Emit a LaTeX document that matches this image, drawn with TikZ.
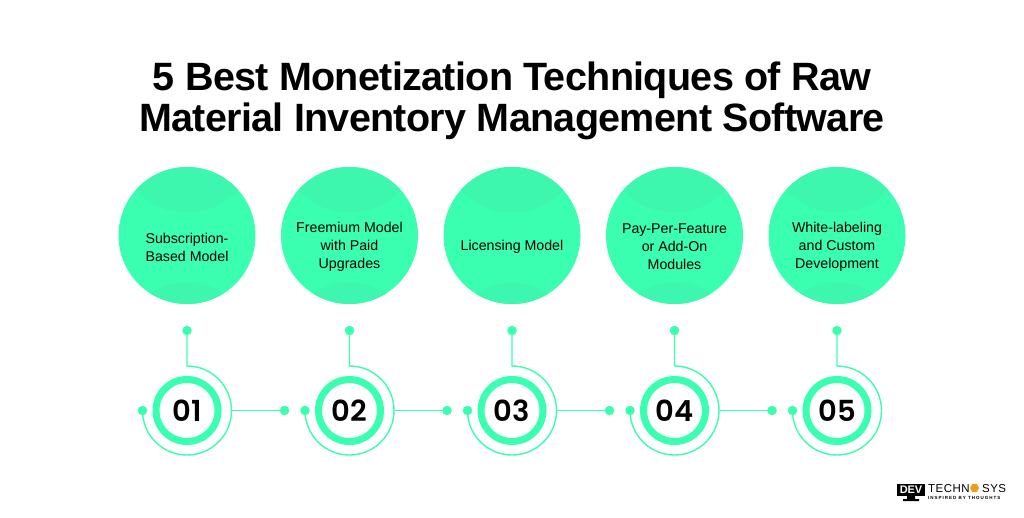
\documentclass[tikz,border=0pt]{standalone}
\usepackage{fontspec}
\setmainfont{Liberation Sans}
\newfontfamily\numfont{Poppins SemiBold}
\newfontfamily\titlefont[LetterSpace=-1.7]{Liberation Sans}
\newfontfamily\logofont[LetterSpace=4]{Liberation Sans}
\newfontfamily\tagfont[LetterSpace=22]{Liberation Sans}
\usetikzlibrary{calc}
\usetikzlibrary{shapes.geometric}
\definecolor{mint}{HTML}{3BFFB0}
\definecolor{mintdark}{HTML}{3EF7AE}
\definecolor{hexorange}{HTML}{F39A1E}
\tikzset{
    topic/.style={circle, minimum size=137pt, inner sep=0pt, fill=mint,
        path picture={
            \fill[mintdark] ($(path picture bounding box.center) + (0, -93.5)$) circle[radius=70.5];
            \fill[mintdark] ($(path picture bounding box.center) + (0, 116)$) circle[radius=69];
        }},
    caption/.style={inner sep=0pt, align=center, font=\fontsize{14.2}{18}\selectfont},
    ring/.style={circle, minimum size=62pt, inner sep=0pt, draw=mint, line width=7pt,
        font=\numfont\fontsize{29}{29}\selectfont},
    dot/.style={circle, minimum size=9.5pt, inner sep=0pt, fill=mint},
    wire/.style={draw=mint, line width=1.4pt},
    headline/.style={anchor=base, inner sep=0pt, font=\titlefont\bfseries\fontsize{39.5}{39.5}\selectfont},
}
\begin{document}
\begin{tikzpicture}[x=1pt, y=-1pt]
            \useasboundingbox (0, 0) rectangle (1024, 517);
            \fill[white] (0, 0) rectangle (1024, 517);
            \node[headline] (title top) at (512, 90) {5 Best Monetization Techniques of Raw};
            \node[headline] (title bottom) at (512, 131) {Material Inventory Management Software};
            % circles
            \node[topic] (topic 1) at (187, 235.5) {};
            \node[topic] (topic 2) at (349.5, 235.5) {};
            \node[topic] (topic 3) at (512, 235.5) {};
            \node[topic] (topic 4) at (674.5, 235.5) {};
            \node[topic] (topic 5) at (837, 235.5) {};
            \node[caption] (caption 1) at ($(topic 1) + (0, 11.5)$) {Subscription-\\Based Model};
            \node[caption] (caption 2) at ($(topic 2) + (0, 11.5)$) {Freemium Model\\with Paid\\Upgrades};
            \node[caption] (caption 3) at ($(topic 3) + (0, 11.5)$) {Licensing Model};
            \node[caption] (caption 4) at ($(topic 4) + (0, 11.5)$) {Pay-Per-Feature\\or Add-On\\Modules};
            \node[caption] (caption 5) at ($(topic 5) + (0, 11.5)$) {White-labeling\\and Custom\\Development};
            % rings
            \node[ring] (ring 1) at (187, 410.5) {01};
            \node[ring] (ring 2) at (349.5, 410.5) {02};
            \node[ring] (ring 3) at (512, 410.5) {03};
            \node[ring] (ring 4) at (674.5, 410.5) {04};
            \node[ring] (ring 5) at (837, 410.5) {05};
            % first
            \node[dot] (up 1) at ($(ring 1) + (0, -80)$) {};
            \node[dot] (left 1) at ($(ring 1) + (-44.5, 0)$) {};
            \node[dot] (right 1) at ($(ring 1) + (97.5, 0)$) {};
            \coordinate (bend 1) at ($(ring 1) + (0, -44.5)$);
            \coordinate (side 1) at ($(ring 1) + (44.5, 0)$);
            \draw[wire] (up 1.center) -- (bend 1) arc[start angle=-90, end angle=180, radius=44.5];
            \draw[wire] (side 1) -- (right 1.center);
            % second
            \node[dot] (up 2) at ($(ring 2) + (0, -80)$) {};
            \node[dot] (left 2) at ($(ring 2) + (-44.5, 0)$) {};
            \node[dot] (right 2) at ($(ring 2) + (97.5, 0)$) {};
            \coordinate (bend 2) at ($(ring 2) + (0, -44.5)$);
            \coordinate (side 2) at ($(ring 2) + (44.5, 0)$);
            \draw[wire] (up 2.center) -- (bend 2) arc[start angle=-90, end angle=180, radius=44.5];
            \draw[wire] (side 2) -- (right 2.center);
            % third
            \node[dot] (up 3) at ($(ring 3) + (0, -80)$) {};
            \node[dot] (left 3) at ($(ring 3) + (-44.5, 0)$) {};
            \node[dot] (right 3) at ($(ring 3) + (97.5, 0)$) {};
            \coordinate (bend 3) at ($(ring 3) + (0, -44.5)$);
            \coordinate (side 3) at ($(ring 3) + (44.5, 0)$);
            \draw[wire] (up 3.center) -- (bend 3) arc[start angle=-90, end angle=180, radius=44.5];
            \draw[wire] (side 3) -- (right 3.center);
            % fourth
            \node[dot] (up 4) at ($(ring 4) + (0, -80)$) {};
            \node[dot] (left 4) at ($(ring 4) + (-44.5, 0)$) {};
            \node[dot] (right 4) at ($(ring 4) + (97.5, 0)$) {};
            \coordinate (bend 4) at ($(ring 4) + (0, -44.5)$);
            \coordinate (side 4) at ($(ring 4) + (44.5, 0)$);
            \draw[wire] (up 4.center) -- (bend 4) arc[start angle=-90, end angle=180, radius=44.5];
            \draw[wire] (side 4) -- (right 4.center);
            % fifth has no wire on its right
            \node[dot] (up 5) at ($(ring 5) + (0, -80)$) {};
            \node[dot] (left 5) at ($(ring 5) + (-44.5, 0)$) {};
            \coordinate (bend 5) at ($(ring 5) + (0, -44.5)$);
            \draw[wire] (up 5.center) -- (bend 5) arc[start angle=-90, end angle=180, radius=44.5];
            % logo
            \fill[black] (897, 483.5) rectangle (925, 495.5);
            \fill[black] (907, 495.5) rectangle (915, 499) (903, 499) rectangle (919, 501);
            \node[inner sep=0pt, text=white, font=\titlefont\bfseries\fontsize{11}{11}\selectfont] (logo dev) at (911, 489.7) {DEV};
            \node[anchor=base west, inner sep=0pt, font=\logofont\fontsize{11.5}{11.5}\selectfont] (logo techn) at (928, 492.5) {TECHN};
            \node[regular polygon, regular polygon sides=6, minimum size=9pt, inner sep=0pt, fill=hexorange] (logo hex) at (974.5, 488) {};
            \node[anchor=base west, inner sep=0pt, font=\logofont\fontsize{11.5}{11.5}\selectfont] (logo sys) at (982, 492.5) {SYS};
            \node[anchor=base west, inner sep=0pt, font=\tagfont\bfseries\fontsize{4.5}{4.5}\selectfont] (logo line) at (928, 499) {INSPIRED BY THOUGHTS};
        \end{tikzpicture}
\end{document}
